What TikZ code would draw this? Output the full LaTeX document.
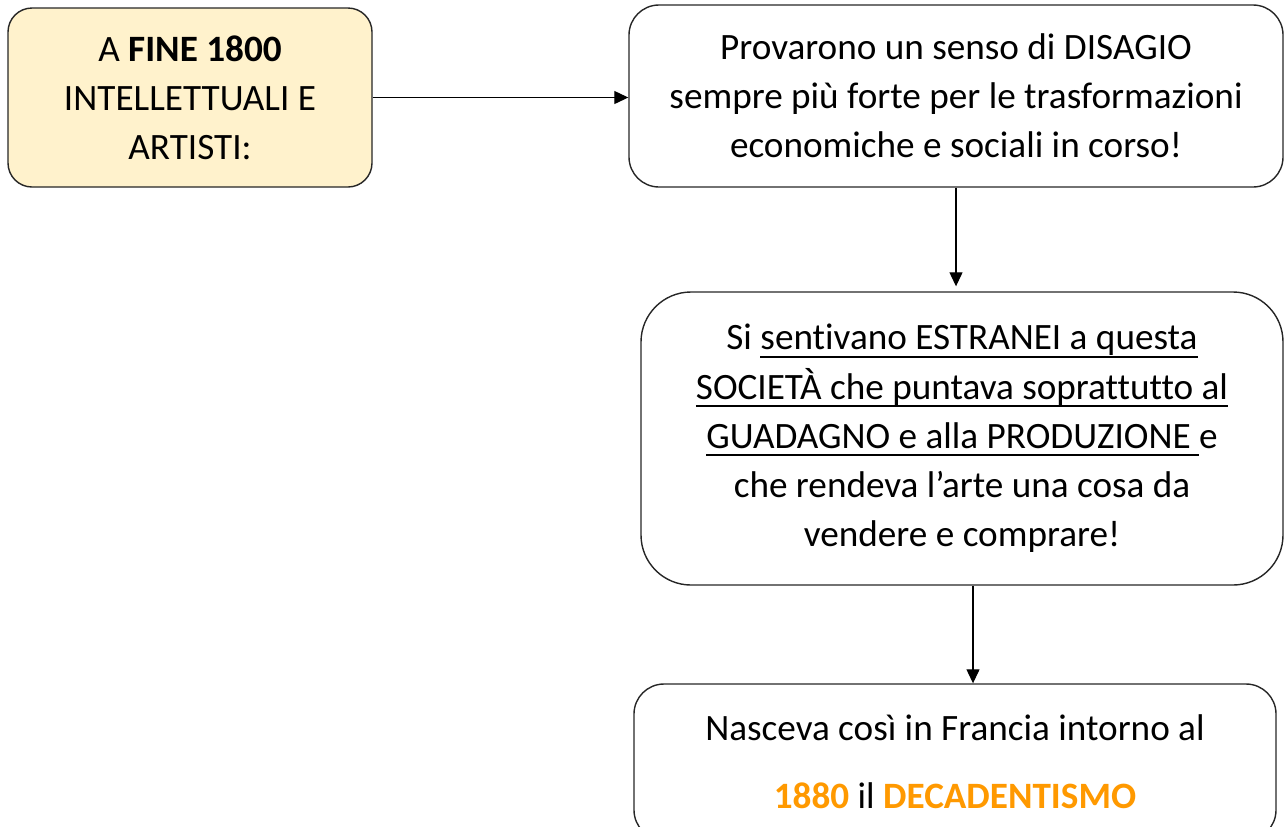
\documentclass[tikz,border=0pt]{standalone}
\usepackage{fontspec}
\setmainfont[Ligatures={NoCommon}]{Carlito}
\usetikzlibrary{arrows.meta}
\definecolor{boxyellow}{RGB}{255,242,204}
\definecolor{decorange}{RGB}{255,153,0}
\newcommand\ulined[1]{\setbox0\hbox{#1}\rlap{\vrule height -3pt depth 4pt width \wd0}\box0}

\begin{document}
\begin{tikzpicture}[x=0.5pt,y=-0.5pt,
  box/.style={draw=black!85,line width=0.7pt,align=center,inner sep=0pt,
    font=\fontsize{18.6pt}{24.6pt}\selectfont},
  link/.style={-{Triangle[length=7pt,width=6.5pt]},line width=0.6pt}]
  \useasboundingbox (0,0) rectangle (1284,826);
  \node[box,fill=boxyellow,rounded corners=12pt,minimum width=182pt,minimum height=89.5pt] (start) at (190,97.5)
    {A \textbf{FINE 1800}\\INTELLETTUALI E\\ARTISTI:};
  \node[box,rounded corners=15pt,minimum width=327pt,minimum height=91pt] (unease) at (956,96)
    {Provarono un senso di DISAGIO\\sempre più forte per le trasformazioni\\economiche e sociali in corso!};
  \node[box,rounded corners=25pt,minimum width=321pt,minimum height=146.5pt] (alien) at (962,438.5)
    {Si \ulined{sentivano ESTRANEI a questa}\\\ulined{SOCIETÀ che puntava soprattutto al}\\\ulined{GUADAGNO e alla PRODUZIONE }e\\che rendeva l’arte una cosa da\\vendere e comprare!};
  \node[box,rounded corners=15pt,minimum width=321pt,minimum height=78pt] (birth) at (955,762)
    {Nasceva così in Francia intorno al\\[9.5pt]\textcolor{decorange}{\textbf{1880}} il \textcolor{decorange}{\textbf{DECADENTISMO}}};
  \draw[link] (start.east) -- (start.east -| unease.west);
  \draw[link,shorten >=2.5pt] (unease.south) -- (unease.south |- alien.north);
  \coordinate (drop) at ([xshift=5.5pt]alien.south);
  \draw[link] (drop) -- (drop |- birth.north);
\end{tikzpicture}
\end{document}
